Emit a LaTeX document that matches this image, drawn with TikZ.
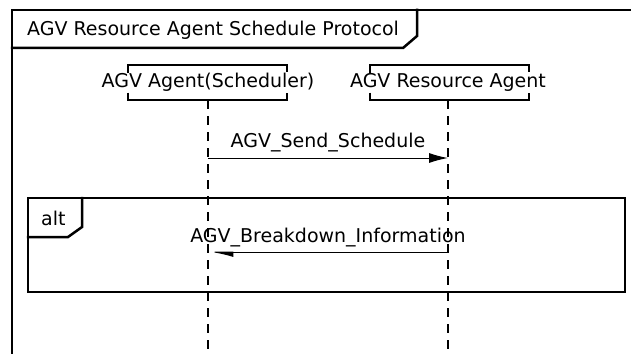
\documentclass[tikz,border=0pt]{standalone}
\usepackage{fontspec}
\setmainfont{DejaVu Sans}
\usetikzlibrary{arrows.meta, positioning}

\begin{document}
\begin{tikzpicture}[
  x=1pt, y=-1pt,
  frame/.style={
    draw=black,
    line width=2.5pt,
    line cap=rect
  },
  lbl/.style={
    font=\fontsize{19}{22}\selectfont,
    inner sep=0pt
  },
  header/.style={
    lbl,
    minimum height=35pt
  },
  bracket/.style={
    draw=black,
    line width=1.5pt
  },
  lifeline/.style={
    draw=black,
    line width=1.8pt,
    dash pattern=on 9pt off 7pt
  },
  msg/.style={
    draw=black,
    line width=1pt
  }
]
\useasboundingbox (0,0) rectangle (631,353);

% Outer frame with title tab
\draw[frame] (631,10) -- (12,10) -- (12,353);
\node[lbl, anchor=west] (title) at (27,30) {AGV Resource Agent Schedule Protocol};
\draw[frame] (12,48) -- (403,48) -- (417,36) -- (417,10);

% Lifeline heads
\node[header] (sched) at (208,82.5) {AGV Agent(Scheduler)};
\node[header] (res) at (448,82.5) {AGV Resource Agent};
\draw[bracket] ([shift={(-80,-10)}]sched.center) |- ([shift={(79,-17.5)}]sched.center) -- ++(0,7);
\draw[bracket] ([shift={(-80,10)}]sched.center) |- ([shift={(79,17.5)}]sched.center) -- ++(0,-7);
\draw[bracket] ([shift={(-78,-10)}]res.center) |- ([shift={(81,-17.5)}]res.center) -- ++(0,7);
\draw[bracket] ([shift={(-78,10)}]res.center) |- ([shift={(81,17.5)}]res.center) -- ++(0,-7);

% Lifelines
\coordinate (schedEnd) at (208,353);
\coordinate (resEnd) at (448,353);
\draw[lifeline] (sched.south) -- (schedEnd);
\draw[lifeline] (res.south) -- (resEnd);

% Messages
\coordinate (sendFrom) at (208,158);
\coordinate (sendTo) at (448,158);
\draw[msg, -{Latex[length=19pt, width=10pt]}] (sendFrom) -- node[lbl, midway, yshift=15pt] {AGV\_Send\_Schedule} (sendTo);

% Alt fragment
\draw[frame] (28,198) rectangle (625,292);
\node[lbl, anchor=west] (alt) at (41,218) {alt};
\draw[frame] (28,237) -- (68,237) -- (82,227) -- (82,198);

\coordinate (breakFrom) at (448,252);
\coordinate (breakTo) at (208,252);
\draw[msg, -{Latex[harpoon, length=22pt, width=10pt]}] (breakFrom) -- node[lbl, midway, yshift=14pt] {AGV\_Breakdown\_Information} (breakTo);
\end{tikzpicture}
\end{document}
